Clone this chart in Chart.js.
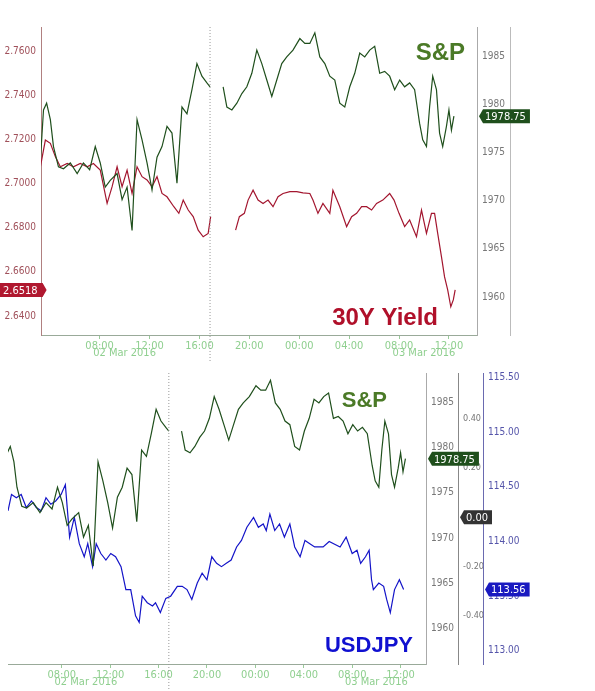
<!DOCTYPE html>
<html><head><meta charset="utf-8">
<script src="https://cdn.jsdelivr.net/npm/chart.js@4.4.1/dist/chart.umd.min.js"></script>
<style>body{margin:0;background:#fff;width:595px;height:691px;position:relative;overflow:hidden}
#w1{position:absolute;left:0;top:0;width:595px;height:362px}
#w2{position:absolute;left:0;top:363px;width:595px;height:328px}</style>
</head><body>
<div id="w1"><canvas id="c1"></canvas></div>
<div id="w2"><canvas id="c2"></canvas></div>
<script>
// hours since 02 Mar 2016 00:00; null = session gap
const spxHours = [3.25,3.5,3.75,4.05,4.3,4.7,5.1,5.65,6.2,6.7,7.2,7.65,8.05,8.45,8.85,9.4,9.8,10.2,10.6,11,11.4,11.8,12.2,12.6,13,13.4,13.8,14.2,14.6,15,15.4,15.8,16.2,16.6,16.85,17.4,17.9,18.2,18.6,19,19.4,19.8,20.2,20.6,21,21.4,21.8,22.2,22.6,23,23.5,24.05,24.45,24.85,25.25,25.65,26.05,26.45,26.85,27.25,27.65,28.05,28.45,28.85,29.25,29.65,30.05,30.45,30.85,31.25,31.65,32.05,32.45,32.85,33.25,33.65,33.9,34.2,34.45,34.7,35.0,35.25,35.5,35.8,36.0,36.2,36.4];
const spxValues = [1974.2,1979.4,1980.1,1978.4,1975.6,1973.5,1973.3,1973.9,1972.8,1973.9,1973.2,1975.6,1973.9,1971.4,1972.1,1972.8,1970.1,1971.4,1966.9,1978.4,1976.3,1973.9,1971.1,1974.5,1975.6,1977.7,1977.0,1971.8,1979.7,1979.0,1981.5,1984.2,1982.9,1982.2,1981.8,null,1981.8,1979.7,1979.4,1980.1,1981.1,1981.8,1983.2,1985.6,1984.2,1982.5,1980.8,1982.5,1984.2,1984.9,1985.6,1986.8,1986.3,1986.3,1987.4,1984.9,1984.2,1982.9,1982.5,1980.1,1979.7,1981.8,1983.2,1985.3,1984.9,1985.6,1986.0,1983.2,1983.4,1982.9,1981.5,1982.5,1981.8,1982.2,1981.5,1978.0,1976.3,1975.6,1979.7,1982.9,1981.5,1977.0,1975.6,1977.7,1979.4,1977.3,1978.75];
const yldHours = [3.25,3.65,4.05,4.45,4.85,5.4,5.9,6.45,7,7.5,8.05,8.6,9,9.4,9.8,10.2,10.6,11,11.4,11.8,12.2,12.6,13,13.4,13.95,14.35,14.7,15.1,15.5,15.9,16.3,16.7,16.9,17.9,18.9,19.2,19.6,19.9,20.3,20.7,21.1,21.5,21.9,22.3,22.7,23.25,23.8,24.3,24.85,25.1,25.5,25.9,26.45,26.7,27.25,27.8,28.2,28.6,29,29.4,29.8,30.2,30.7,31.25,31.6,32,32.45,32.85,33.4,33.8,34.2,34.6,34.85,35.1,35.4,35.65,35.9,36.15,36.35,36.5];
const yldValues = [2.7076,2.7197,2.7182,2.7122,2.7076,2.7091,2.7076,2.7091,2.7076,2.7091,2.7061,2.6910,2.6986,2.7076,2.6986,2.7061,2.6955,2.7076,2.7031,2.7016,2.6986,2.7031,2.6955,2.6940,2.6895,2.6865,2.6925,2.6880,2.6850,2.6789,2.6759,2.6774,2.6850,null,2.6789,2.6850,2.6865,2.6925,2.6970,2.6925,2.6910,2.6925,2.6895,2.6940,2.6955,2.6963,2.6963,2.6958,2.6955,2.6925,2.6865,2.6910,2.6865,2.6970,2.6895,2.6805,2.6850,2.6865,2.6895,2.6895,2.6880,2.6910,2.6925,2.6955,2.6925,2.6865,2.6805,2.6835,2.6759,2.6880,2.6774,2.6865,2.6865,2.6774,2.6669,2.6577,2.6518,2.6442,2.6473,2.6518];
const jpyHours = [3.56,3.85,4.25,4.65,5.07,5.5,5.9,6.3,6.7,7.1,7.5,7.95,8.3,8.65,9.04,9.45,9.86,10.15,10.55,10.85,11.23,11.65,12.05,12.45,12.9,13.3,13.7,14.1,14.4,14.65,15.07,15.5,15.75,16.15,16.6,17,17.55,17.95,18.35,18.75,19.2,19.6,20,20.4,20.8,21.2,21.6,22,22.45,22.85,23.3,23.85,24.25,24.65,24.9,25.2,25.6,26,26.4,26.85,27.25,27.7,28.1,28.5,28.9,29.6,30.1,31,31.5,32,32.4,32.7,33.1,33.4,33.6,33.75,34.2,34.6,34.85,35.15,35.5,35.9,36.25];
const jpyValues = [114.28,114.43,114.40,114.43,114.31,114.37,114.31,114.28,114.40,114.34,114.37,114.43,114.52,114.04,114.22,113.98,113.86,113.98,113.77,113.98,113.89,113.83,113.89,113.86,113.77,113.56,113.56,113.32,113.26,113.50,113.44,113.41,113.44,113.35,113.48,113.50,113.59,113.59,113.56,113.47,113.62,113.71,113.65,113.86,113.80,113.77,113.80,113.83,113.95,114.01,114.13,114.22,114.13,114.16,114.10,114.25,114.10,114.16,114.04,114.16,113.95,113.86,114.01,113.98,113.95,113.95,114.00,113.95,114.04,113.89,113.92,113.80,113.86,113.92,113.65,113.56,113.62,113.59,113.47,113.35,113.56,113.65,113.56];
const timeTicks = [8,12,16,20,24,28,32,36];
const dateLabels = [{h:10,t:'02 Mar 2016'},{h:34,t:'03 Mar 2016'}];
const yieldTicks = [2.64,2.66,2.68,2.70,2.72,2.74,2.76];
const spxTicks = [1960,1965,1970,1975,1980,1985];
const spreadTicks = [-0.4,-0.2,0,0.2,0.4];
const jpyTicks = [113.0,113.5,114.0,114.5,115.0,115.5];
const sessionBreak = 16.85;
const spxLast = 1978.75, yldLast = 2.6518, spreadLast = 0.00, jpyLast = 113.56;

const pts=(h,v)=>h.map((x,i)=>({x,y:v[i]}));
const FONT='"Liberation Sans Narrow","DejaVu Sans Condensed",Arial,sans-serif';
function hh(v){const h=((v%24)+24)%24;return String(h).padStart(2,'0')+':00';}
function fixed(ticks){return s=>{s.ticks=ticks.map(v=>({value:v}));};}

function deco(opts){return {id:'deco'+Math.random(),afterDraw(c){
  const g=c.ctx,a=c.chartArea,xs=c.scales.x;
  g.save();
  const bx=xs.getPixelForValue(sessionBreak);
  g.strokeStyle='#999';g.setLineDash([1,2]);g.lineWidth=1;
  g.beginPath();g.moveTo(bx,a.top);g.lineTo(bx,c.height);g.stroke();g.setLineDash([]);
  g.fillStyle='#8fcf8f';g.font='11px '+FONT;g.textAlign='center';g.textBaseline='top';
  dateLabels.forEach(d=>g.fillText(d.t,xs.getPixelForValue(d.h),a.bottom+opts.dateOff));
  opts.titles.forEach(t=>{g.font='bold '+t.s+'px "Liberation Sans",Arial,sans-serif';g.fillStyle=t.c;g.textAlign='right';g.textBaseline='alphabetic';g.fillText(t.t,t.x,t.y);});
  opts.badges.forEach(b=>{const sc=c.scales[b.axis];const y=sc.getPixelForValue(b.v);
    g.font='11px '+FONT;const w=g.measureText(b.t).width+6;const x=b.left?sc.left:sc.left+2;
    g.fillStyle=b.bg;g.beginPath();
    if(b.left){g.rect(x,y-7,w+2,14);g.moveTo(x+w+2,y-7);g.lineTo(x+w+6,y);g.lineTo(x+w+2,y+7);}
    else{g.moveTo(x,y);g.lineTo(x+4,y-7);g.lineTo(x+4+w,y-7);g.lineTo(x+4+w,y+7);g.lineTo(x+4,y+7);g.closePath();}
    g.fill();g.fillStyle='#fff';g.textAlign='left';g.textBaseline='middle';g.fillText(b.t,b.left?x+3:x+6,y+1);});
  g.restore();}};}

function yAxis(pos,min,max,ticks,color,fmt,width,border,show=true,fs=10){return {type:'linear',position:pos,min,max,afterBuildTicks:fixed(ticks),
  afterFit(s){s.width=width;},grid:{display:false,drawOnChartArea:false,drawTicks:show,tickLength:4,tickColor:border},border:{color:border},
  ticks:{display:show,color,font:{family:FONT,size:fs},callback:fmt,padding:1,autoSkip:false}};}

const xAxis=(min,max)=>({type:'linear',min,max,afterBuildTicks:fixed(timeTicks),afterFit(s){s.height=27;},
  grid:{display:true,drawOnChartArea:false,tickLength:4,tickColor:'#9c9'},border:{color:'#9a9'},
  ticks:{color:'#8fcf8f',font:{family:FONT,size:11},callback:hh,maxRotation:0,padding:1}});

const base={responsive:true,maintainAspectRatio:false,animation:false,plugins:{legend:{display:false},tooltip:{enabled:false}},elements:{point:{radius:0},line:{borderWidth:1.2,tension:0}}};

new Chart(document.getElementById('c1'),{type:'line',
 data:{datasets:[
  {data:pts(spxHours,spxValues),yAxisID:'spx',borderColor:'#1f4f1c',spanGaps:false},
  {data:pts(yldHours,yldValues),yAxisID:'yld',borderColor:'#a3162f',spanGaps:false}]},
 options:{...base,layout:{padding:{top:27,bottom:0,left:0,right:0}},
  scales:{x:xAxis(3.3,38.25),
   yld:yAxis('left',2.6314,2.7709,yieldTicks,'#a0505a',v=>v.toFixed(4),41,'#b08080'),
   spx:yAxis('right',1956.06,1988.0,spxTicks,'#777',v=>v,33,'#aaa'),
   blank:yAxis('right',0,1,[],'#777',v=>'',85,'#bbb',false)}},
 plugins:[deco({dateOff:13,titles:[{t:'S&P',x:465,y:60,s:24,c:'#4b7a27'},{t:'30Y Yield',x:438,y:325,s:24,c:'#b0102a'}],
  badges:[{axis:'spx',v:spxLast,t:'1978.75',bg:'#1f4f1c'},{axis:'yld',v:yldLast,t:'2.6518',bg:'#b0182f',left:true}]})]});

new Chart(document.getElementById('c2'),{type:'line',
 data:{datasets:[
  {data:pts(spxHours,spxValues),yAxisID:'spx',borderColor:'#1f4f1c',spanGaps:false},
  {data:pts(jpyHours,jpyValues),yAxisID:'jpy',borderColor:'#1414c8',spanGaps:false}]},
 options:{...base,layout:{padding:{top:10,left:8,right:0,bottom:0}},
  scales:{x:xAxis(3.56,38.1),
   spx:yAxis('right',1956.1,1988.2,spxTicks,'#777',v=>v,32,'#aaa'),
   spr:yAxis('right',-0.595,0.585,spreadTicks,'#777',v=>v===0?'':v.toFixed(2),25,'#888',true,9),
   jpy:yAxis('right',112.88,115.54,jpyTicks,'#5555aa',v=>v.toFixed(2),112,'#6a6ab0')}},
 plugins:[deco({dateOff:13,titles:[{t:'S&P',x:387,y:407,s:22,c:'#4b7a27'},{t:'USDJPY',x:413,y:652,s:22,c:'#1010d0'}].map(t=>({...t,y:t.y-363})),
  badges:[{axis:'spx',v:spxLast,t:'1978.75',bg:'#1f4f1c'},{axis:'spr',v:spreadLast,t:'0.00',bg:'#333'},{axis:'jpy',v:jpyLast,t:'113.56',bg:'#1a1ac0'}]})]});
</script></body></html>
